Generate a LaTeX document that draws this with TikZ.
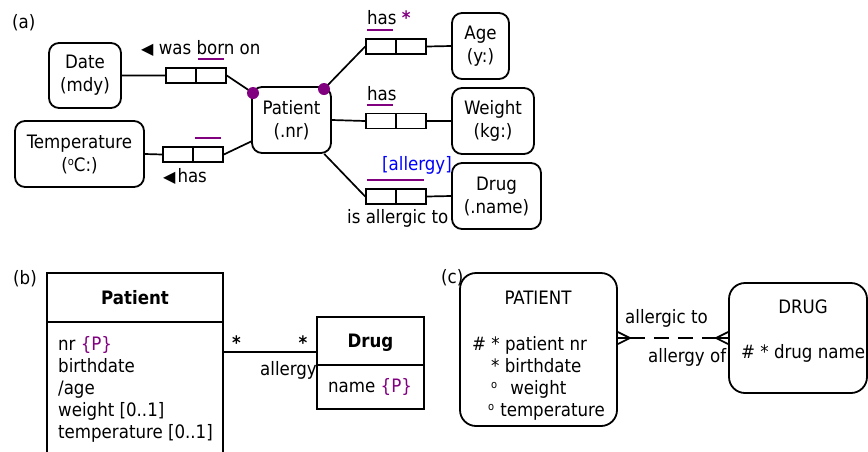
\documentclass[tikz,border=0pt]{standalone}
\usepackage{fontspec}
\setmainfont{DejaVu Sans Condensed}
\newfontfamily\symfont{DejaVu Sans}
\usetikzlibrary{calc}
\definecolor{ucpurple}{RGB}{128,0,128}
\definecolor{roleblue}{RGB}{0,0,255}
\newcommand{\degO}{\raisebox{0.55ex}{\fontsize{11}{11}\selectfont o}}
\newcommand{\lefttri}{{\symfont\fontsize{16}{16}\selectfont ◀}}

\begin{document}
\begin{tikzpicture}[x=1pt,y=-1pt,
	every node/.style={font=\fontsize{18.5}{23}\selectfont},
	ent/.style={draw, rounded corners=10pt, line width=1.8pt, align=center, inner sep=0pt},
	rolebox/.style={draw, line width=1.6pt, minimum width=30pt, minimum height=15pt, inner sep=0pt},
	cls/.style={draw, line width=1.8pt, inner sep=0pt, text height=13pt, text depth=0pt},
	erd/.style={draw, rounded corners=16pt, line width=1.8pt, inner sep=0pt},
	lbl/.style={inner sep=0pt, anchor=base west},
	conn/.style={line width=1.7pt},
	uc/.style={draw=ucpurple, line width=2.2pt},
	rel/.style={line width=2.8pt, dash pattern=on 15pt off 9pt}]
	\useasboundingbox (0,0) rectangle (868,451);

	% (a)
	\node[lbl] (aTag) at (12,28) {(a)};
	\node[ent, minimum width=72pt, minimum height=65pt] (date) at (85,75.5) {Date\\(mdy)};
	\node[ent, minimum width=129pt, minimum height=66pt] (temp) at (79.5,154) {Temperature\\(\degO C:)};
	\node[ent, minimum width=79pt, minimum height=66pt] (patient) at (291.5,120) {Patient\\(.nr)};
	\node[ent, minimum width=57pt, minimum height=66pt] (age) at (480.5,46) {Age\\(y:)};
	\node[ent, minimum width=82pt, minimum height=66pt] (weight) at (493,121) {Weight\\(kg:)};
	\node[ent, minimum width=89pt, minimum height=66pt] (drug) at (496.5,196) {Drug\\(.name)};

	\node[rolebox] (bornL) at (181,75.5) {};
	\node[rolebox] (bornR) at (211,75.5) {};
	\node[rolebox] (tempL) at (178,154.5) {};
	\node[rolebox] (tempR) at (208,154.5) {};
	\node[rolebox] (ageL) at (381,46.5) {};
	\node[rolebox] (ageR) at (411,46.5) {};
	\node[rolebox] (weightL) at (381,121) {};
	\node[rolebox] (weightR) at (411,121) {};
	\node[rolebox] (drugL) at (381,196.5) {};
	\node[rolebox] (drugR) at (411,196.5) {};

	\coordinate (dotL) at (253,93);
	\coordinate (dotR) at (324,89);

	\draw[conn] (date.east) -- (bornL.west)
	(bornR.east) -- (dotL)
	(temp.east) -- (tempL.west)
	(tempR.east) -- (patient.208)
	(dotR) -- (ageL.west)
	(ageR.east) -- (age.west)
	(patient.east) -- (weightL.west)
	(weightR.east) -- (weight.west)
	(patient.-46) -- (drugL.west)
	(drugR.east) -- (drug.west);
	\fill[ucpurple] (dotL) circle (6pt) (dotR) circle (6pt);

	\draw[uc] ([xshift=3pt,yshift=8pt]bornR.north west) -- ([xshift=-3pt,yshift=8pt]bornR.north east);
	\draw[uc] ([xshift=3pt,yshift=8pt]tempR.north west) -- ([xshift=-3pt,yshift=8pt]tempR.north east);
	\draw[uc] ([xshift=2pt,yshift=8pt]ageL.north west) -- ([xshift=-4pt,yshift=8pt]ageL.north east);
	\draw[uc] ([xshift=2pt,yshift=8pt]weightL.north west) -- ([xshift=-4pt,yshift=8pt]weightL.north east);
	\draw[uc] ([xshift=2pt,yshift=8pt]drugL.north west) -- ([xshift=-3pt,yshift=8pt]drugR.north east);

	\node[lbl] (bornLbl) at (141,54) {\lefttri\ was born on};
	\node[lbl] (tempLbl) at (163,182) {\lefttri\hspace{2pt}has};
	\node[lbl] (ageLbl) at (367,24) {has \textcolor{ucpurple}{\textbf{*}}};
	\node[lbl] (weightLbl) at (367,100) {has};
	\node[lbl, text=roleblue] (allergyLbl) at (382,170) {[allergy]};
	\node[lbl] (allergicLbl) at (347,223) {is allergic to};

	% (b)
	\node[lbl] (bTag) at (13,284) {(b)};
	\node[cls, minimum width=176pt, minimum height=49pt] (patHead) at (135,297.5) {\textbf{Patient}};
	\node[cls, minimum width=176pt, minimum height=138pt] (patBody) at (135,391) {};
	\foreach \attr [count=\i] in {{nr \textcolor{ucpurple}{\{P\}}}, birthdate, /age, {weight [0..1]}, {temperature [0..1]}}
		\node[lbl] (patAttr\i) at (58,328+22*\i) {\attr};

	\node[cls, minimum width=107pt, minimum height=48pt] (drugHead) at (370.5,341) {\textbf{Drug}};
	\node[cls, minimum width=107pt, minimum height=44pt] (drugBody) at (370.5,387) {};
	\node[lbl] (drugAttr) at (328,392) {name \textcolor{ucpurple}{\{P\}}};

	\coordinate (assocR) at ([yshift=14pt]drugHead.south west);
	\draw[conn] (assocR) -- (assocR -| patBody.east);
	\node (multL) at (236.5,343) {\textbf{*}};
	\node (multR) at (303,343) {\textbf{*}};
	\node[lbl] (assocLbl) at (260,375) {allergy};

	% (c)
	\node[lbl] (cTag) at (441,283) {(c)};
	\node[erd, minimum width=157pt, minimum height=153pt] (patERD) at (538.5,349.5) {};
	\node[lbl, anchor=base] (patERDName) at (538,304) {PATIENT};
	\node[lbl] (patERDa1) at (472,350) {\# * patient nr};
	\node[lbl] (patERDa2) at (491,372) {* birthdate};
	\node[lbl] (patERDa3) at (491,394) {\degO\hspace{13pt}weight};
	\node[lbl] (patERDa4) at (488,416) {\degO\hspace{6pt}temperature};

	\node[erd, minimum width=138pt, minimum height=110pt] (drugERD) at (798,338) {};
	\node[lbl, anchor=base] (drugERDName) at (803,313) {DRUG};
	\node[lbl] (drugERDa1) at (741,358) {\# * drug name};

	\coordinate (relR) at (drugERD.west);
	\coordinate (relL) at (relR -| patERD.east);
	\draw[conn] ([yshift=6pt]relL) -- ([xshift=12pt]relL) -- ([yshift=-6pt]relL)
	(relL) -- ([xshift=12pt]relL);
	\draw[conn] ([yshift=6pt]relR) -- ([xshift=-12pt]relR) -- ([yshift=-6pt]relR)
	(relR) -- ([xshift=-12pt]relR);
	\draw[rel] ([xshift=12pt]relL) -- ([xshift=-12pt]relR);
	\node[lbl] (relTop) at (625,323) {allergic to};
	\node[lbl] (relBot) at (648,362) {allergy of};
\end{tikzpicture}
\end{document}
